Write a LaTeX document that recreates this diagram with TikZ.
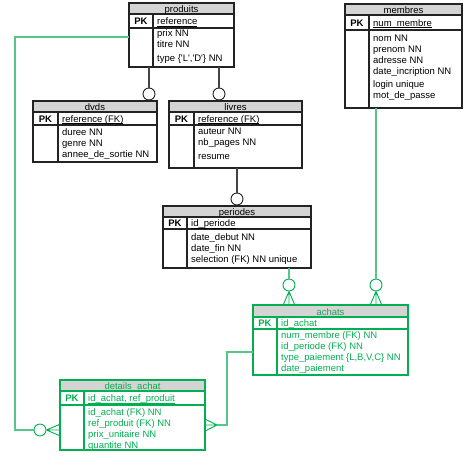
\documentclass[tikz,border=0pt]{standalone}
\usepackage{fontspec}
\setmainfont{Liberation Sans}
\definecolor{erline}{RGB}{35,35,35}
\definecolor{ertitle}{RGB}{212,212,212}
\definecolor{ergreen}{RGB}{0,176,80}
\definecolor{erlink}{RGB}{85,198,135}
\newcommand{\keyul}[1]{\setbox0\hbox{#1}\rlap{\rule[-1.6pt]{\wd0}{0.55pt}}\box0}
\begin{document}
\begin{tikzpicture}[x=1pt,y=-1pt,
    tbl/.style={line width=1.1pt,draw=erline},
    ttl/.style={inner sep=0pt,anchor=base,font=\fontsize{9.5}{11}\selectfont},
    pk/.style={inner sep=0pt,anchor=base,font=\fontsize{9.5}{11}\selectfont\bfseries},
    key/.style={inner sep=0pt,anchor=base west,font=\fontsize{9.5}{11}\selectfont},
    attr/.style={inner sep=0pt,anchor=north west,align=left,font=\fontsize{9.5}{11}\selectfont},
    opt/.style={circle,draw=erline,fill=white,line width=0.9pt,minimum size=12pt,inner sep=0pt},
    lnk/.style={line width=1.2pt,draw=erline!85},
    glnk/.style={line width=1.3pt,draw=erlink},
    foot/.style={line width=0.9pt,draw=ergreen}]
  \useasboundingbox (0,0) rectangle (467,467);

  % produits
  \fill[ertitle] (129,3) rectangle (234,14);
  \draw[tbl] (129,3) rectangle (234,67);
  \draw[tbl] (129,14) -- (234,14) (129,28) -- (234,28) (153,14) -- (153,67);
  \node[ttl] (produitsT) at (181.5,12) {produits};
  \node[pk] (produitsPK) at (141,24.5) {PK};
  \node[key] (produitsKey) at (157,24.5) {\keyul{reference}};
  \node[attr] (produitsAttr) at (157,29.6) {prix NN\\titre NN\\[3pt]type \{\textquotesingle L\textquotesingle,\textquotesingle D\textquotesingle\} NN};

  % membres
  \fill[ertitle] (345,4) rectangle (462,15);
  \draw[tbl] (345,4) rectangle (462,108);
  \draw[tbl] (345,15) -- (462,15) (345,30) -- (462,30) (369,15) -- (369,108);
  \node[ttl] (membresT) at (403.5,13) {membres};
  \node[pk] (membresPK) at (357,26) {PK};
  \node[key] (membresKey) at (373,26) {\keyul{num\_membre}};
  \node[attr] (membresAttr) at (373,34.6) {nom NN\\prenom NN\\adresse NN\\date\_incription NN\\[2pt]login unique\\mot\_de\_passe};

  % dvds
  \fill[ertitle] (33,101) rectangle (157,112);
  \draw[tbl] (33,101) rectangle (157,162);
  \draw[tbl] (33,112) -- (157,112) (33,125) -- (157,125) (58,112) -- (58,162);
  \node[ttl] (dvdsT) at (95,110) {dvds};
  \node[pk] (dvdsPK) at (45.5,122) {PK};
  \node[key] (dvdsKey) at (62,122) {\keyul{reference (FK)}};
  \node[attr] (dvdsAttr) at (62,128.6) {duree NN\\genre NN\\annee\_de\_sortie NN};

  % livres
  \fill[ertitle] (169,101) rectangle (302,112);
  \draw[tbl] (169,101) rectangle (302,168);
  \draw[tbl] (169,112) -- (302,112) (169,125) -- (302,125) (194,112) -- (194,168);
  \node[ttl] (livresT) at (235.5,110) {livres};
  \node[pk] (livresPK) at (181.5,122) {PK};
  \node[key] (livresKey) at (198,122) {\keyul{reference (FK)}};
  \node[attr] (livresAttr) at (198,127.6) {auteur NN\\nb\_pages NN\\[3pt]resume};

  % periodes
  \fill[ertitle] (163,206) rectangle (311,217);
  \draw[tbl] (163,206) rectangle (311,268);
  \draw[tbl] (163,217) -- (311,217) (163,229) -- (311,229) (187,217) -- (187,268);
  \node[ttl] (periodesT) at (237,215) {periodes};
  \node[pk] (periodesPK) at (175,226.5) {PK};
  \node[key] (periodesKey) at (191,226.5) {\keyul{id\_periode}};
  \node[attr] (periodesAttr) at (191,233.6) {date\_debut NN\\date\_fin NN\\selection (FK) NN unique};

  % achats
  \fill[ertitle] (253,305) rectangle (408,317);
  \draw[tbl,draw=ergreen] (253,305) rectangle (408,375);
  \draw[tbl,draw=ergreen] (253,317) -- (408,317) (253,329) -- (408,329) (277,317) -- (277,375);
  \node[ttl,text=ergreen!70!gray] (achatsT) at (330.5,315) {achats};
  \node[pk,text=ergreen] (achatsPK) at (265,326.5) {PK};
  \node[key,text=ergreen] (achatsKey) at (281,326.5) {\keyul{id\_achat}};
  \node[attr,text=ergreen] (achatsAttr) at (281,331) {num\_membre (FK) NN\\id\_periode (FK) NN\\type\_paiement \{L,B,V,C\} NN\\date\_paiement};

  % details_achat
  \fill[ertitle] (60,380) rectangle (205,391);
  \draw[tbl,draw=ergreen] (60,380) rectangle (205,450);
  \draw[tbl,draw=ergreen] (60,391) -- (205,391) (60,405) -- (205,405) (84,391) -- (84,450);
  \node[ttl,text=ergreen] (detailsT) at (132.5,389) {details\_achat};
  \node[pk,text=ergreen] (detailsPK) at (72,401.5) {PK};
  \node[key,text=ergreen] (detailsKey) at (88,401.5) {\keyul{id\_achat, ref\_produit}};
  \node[attr,text=ergreen] (detailsAttr) at (88,408) {id\_achat (FK) NN\\ref\_produit (FK) NN\\prix\_unitaire NN\\quantite NN};

  % produits -> dvds, livres
  \coordinate (prodB1) at (149,67);
  \coordinate (prodB2) at (219,67);
  \node[opt] (dvdsO) at (149,94) {};
  \node[opt] (livresO) at (219,94) {};
  \draw[lnk] (prodB1) -- (dvdsO);
  \draw[lnk] (prodB2) -- (livresO);

  % livres -> periodes
  \coordinate (livresB) at (237,168);
  \node[opt] (periodesO) at (237,199) {};
  \draw[lnk] (livresB) -- (periodesO);

  % periodes, membres -> achats
  \coordinate (periodesB) at (289,268);
  \coordinate (membresB) at (376,108);
  \node[opt,draw=ergreen] (achatsO1) at (289,285) {};
  \node[opt,draw=ergreen] (achatsO2) at (376,285) {};
  \draw[glnk] (periodesB) -- (achatsO1);
  \draw[glnk] (membresB) -- (achatsO2);
  \draw[foot] (achatsO1.south) -- ++(-6,14) (achatsO1.south) -- ++(0,14) (achatsO1.south) -- ++(6,14);
  \draw[foot] (achatsO2.south) -- ++(-6,14) (achatsO2.south) -- ++(0,14) (achatsO2.south) -- ++(6,14);

  % produits -> details_achat
  \coordinate (produitsL) at (129,37);
  \node[opt,draw=ergreen] (detailsO) at (40,430) {};
  \draw[glnk] (produitsL) -- ++(-114,0) |- (detailsO);
  \draw[foot] (detailsO.east) -- ++(14,-6) (detailsO.east) -- ++(14,0) (detailsO.east) -- ++(14,6);

  % achats -> details_achat
  \coordinate (achatsL) at (253,352);
  \coordinate (detailsR) at (217,425);
  \draw[glnk] (achatsL) -- ++(-26,0) |- (detailsR);
  \draw[foot] (detailsR) -- ++(-12,-6) (detailsR) -- ++(-12,0) (detailsR) -- ++(-12,6);
\end{tikzpicture}
\end{document}
